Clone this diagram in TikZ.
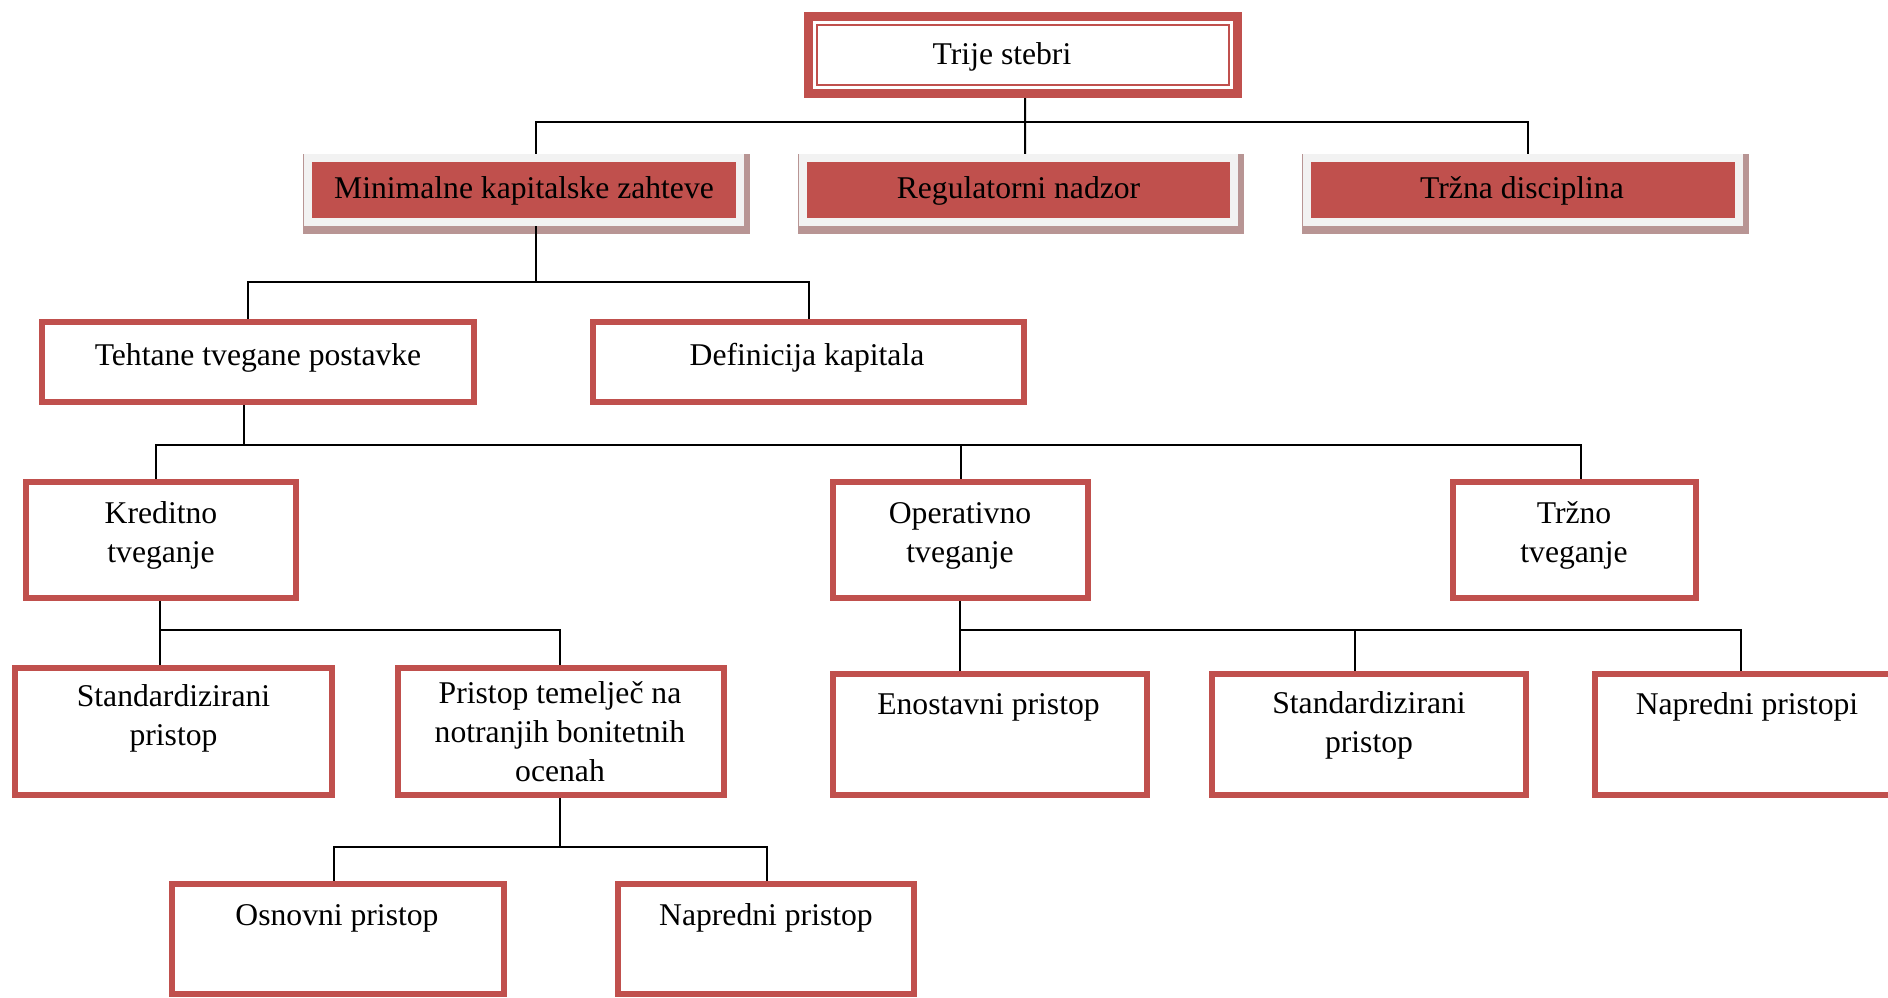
\documentclass[tikz,border=0pt]{standalone}
\usepackage{fontspec}
\setmainfont{Liberation Serif}
\usetikzlibrary{backgrounds}
\definecolor{accred}{HTML}{C0504D}
\definecolor{framegray}{HTML}{F2F2F2}
\definecolor{shad}{HTML}{B89594}
\begin{document}
\begin{tikzpicture}[x=0.01cm,y=-0.01cm,
  wbox/.style={draw=accred, line width=0.06cm, fill=white, inner sep=0pt},
  pillar/.style={draw=framegray, fill=accred, line width=0.08cm, inner sep=0pt, minimum height=0.64cm},
  topbox/.style={draw=accred, line width=0.09cm, fill=white, inner sep=0pt},
  topinner/.style={draw=accred, line width=0.022cm, inner sep=0pt},
  conn/.style={draw=black, line width=0.02cm},
  txt/.style={font=\fontsize{9}{11}\selectfont, align=center, inner sep=0pt, anchor=base, text=black}]
\useasboundingbox (0,0) rectangle (1888,997);

% boxes
\node[topbox, minimum width=4.29cm, minimum height=0.77cm] (top) at (1023,55) {};
\node[topinner, minimum width=4.12cm, minimum height=0.60cm] (topin) at (top.center) {};

\node[pillar, minimum width=4.32cm] (min) at (524,190) {};
\node[pillar, minimum width=4.31cm] (reg) at (1018.5,190) {};
\node[pillar, minimum width=4.32cm] (trz) at (1523,190) {};

\node[wbox, minimum width=4.32cm, minimum height=0.80cm] (teh) at (258,362) {};
\node[wbox, minimum width=4.31cm, minimum height=0.80cm] (def) at (808.5,362) {};

\node[wbox, minimum width=2.70cm, minimum height=1.16cm] (kre) at (161,540) {};
\node[wbox, minimum width=2.55cm, minimum height=1.16cm] (ope) at (960.5,540) {};
\node[wbox, minimum width=2.43cm, minimum height=1.16cm] (trt) at (1574.5,540) {};

\node[wbox, minimum width=3.17cm, minimum height=1.27cm] (std1) at (173.5,731.5) {};
\node[wbox, minimum width=3.26cm, minimum height=1.27cm] (pri) at (561,731.5) {};
\node[wbox, minimum width=3.14cm, minimum height=1.21cm] (eno) at (990,734.5) {};
\node[wbox, minimum width=3.14cm, minimum height=1.21cm] (std2) at (1369,734.5) {};
\node[wbox, minimum width=3.14cm, minimum height=1.21cm] (nap) at (1752,734.5) {};

\node[wbox, minimum width=3.32cm, minimum height=1.10cm] (osn) at (338,939) {};
\node[wbox, minimum width=2.96cm, minimum height=1.10cm] (nps) at (766,939) {};

% shadows and connectors
\begin{scope}[on background layer]
  \foreach \p in {min,reg,trz}{
    \fill[shad] ([xshift=-0.01cm]\p.north west) rectangle ([shift={(0.06cm,-0.075cm)}]\p.south east);
  }
  \draw[conn] ([xshift=0.02cm]top.south) -- ++(0,23.5) -| ([xshift=0.12cm]min.north);
  \draw[conn] ([xshift=0.02cm]top.south) -- ([xshift=0.065cm]reg.north);
  \draw[conn] ([xshift=0.02cm]top.south) -- ++(0,23.5) -| ([xshift=0.05cm]trz.north);

  \draw[conn] ([xshift=0.12cm]min.south) -- ++(0,56) -| ([xshift=-0.10cm]teh.north);
  \draw[conn] ([xshift=0.12cm]min.south) -- ++(0,56) -| ([xshift=0.005cm]def.north);

  \draw[conn] ([xshift=-0.14cm]teh.south) -- ++(0,40) -| ([xshift=-0.05cm]kre.north);
  \draw[conn] ([xshift=-0.14cm]teh.south) -- ++(0,40) -| (ope.north);
  \draw[conn] ([xshift=-0.14cm]teh.south) -- ++(0,40) -| ([xshift=0.065cm]trt.north);

  \draw[conn] ([xshift=-0.01cm]kre.south) -- ++(0,29) -| ([xshift=-0.135cm]std1.north);
  \draw[conn] ([xshift=-0.01cm]kre.south) -- ++(0,29) -| ([xshift=-0.01cm]pri.north);

  \draw[conn] ([xshift=-0.005cm]ope.south) -- ++(0,29) -| ([xshift=-0.30cm]eno.north);
  \draw[conn] ([xshift=-0.005cm]ope.south) -- ++(0,29) -| ([xshift=-0.14cm]std2.north);
  \draw[conn] ([xshift=-0.005cm]ope.south) -- ++(0,29) -| ([xshift=-0.11cm]nap.north);

  \draw[conn] ([xshift=-0.01cm]pri.south) -- ++(0,49) -| ([xshift=-0.04cm]osn.north);
  \draw[conn] ([xshift=-0.01cm]pri.south) -- ++(0,49) -| ([xshift=0.01cm]nps.north);
\end{scope}

% texts (base anchor = baseline of the last line)
\node[txt] (t-top) at (1002,65) {Trije stebri};
\node[txt] (t-min) at (524,199) {Minimalne kapitalske zahteve};
\node[txt] (t-reg) at (1018.5,199) {Regulatorni nadzor};
\node[txt] (t-trz) at (1522,199) {Tržna disciplina};
\node[txt] (t-teh) at (258,365) {Tehtane tvegane postavke};
\node[txt] (t-def) at (807,365) {Definicija kapitala};
\node[txt] (t-kre) at (161,562) {Kreditno\\tveganje};
\node[txt] (t-ope) at (960,562) {Operativno\\tveganje};
\node[txt] (t-trt) at (1574,562) {Tržno\\tveganje};
\node[txt] (t-std1) at (173.5,745) {Standardizirani\\pristop};
\node[txt] (t-pri) at (560,781) {Pristop temelječ na\\notranjih bonitetnih\\ocenah};
\node[txt] (t-eno) at (988.5,714) {Enostavni pristop};
\node[txt] (t-std2) at (1369,752) {Standardizirani\\pristop};
\node[txt] (t-nap) at (1747,714) {Napredni pristopi};
\node[txt] (t-osn) at (337,925) {Osnovni pristop};
\node[txt] (t-nps) at (766,925) {Napredni pristop};
\end{tikzpicture}
\end{document}
